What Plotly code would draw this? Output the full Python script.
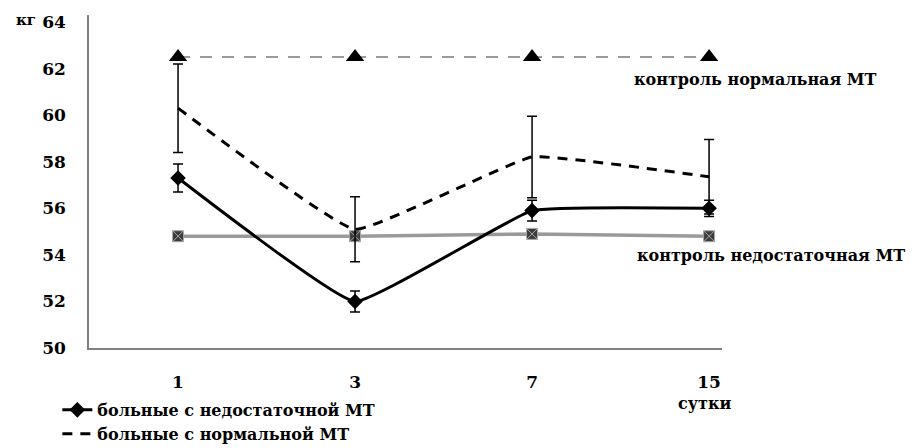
import plotly.graph_objects as go

# Days of observation (category axis)
days = ["1", "3", "7", "15"]

# Body mass, kg
patients_low = [57.3, 52.0, 55.9, 56.0]
patients_low_err = [0.6, 0.45, 0.45, 0.35]
patients_norm = [60.3, 55.1, 58.2, 57.35]
patients_norm_err = [1.9, 1.4, 1.75, 1.6]
control_norm = [62.5, 62.5, 62.5, 62.5]
control_low = [54.8, 54.8, 54.9, 54.8]

x_pos = list(range(len(days)))
FONT = "DejaVu Serif"

fig = go.Figure()

# Control group, insufficient body mass
fig.add_trace(go.Scatter(
    x=x_pos, y=control_low, mode="lines+markers", showlegend=False,
    line=dict(color="#9a9a9a", width=3.5),
    marker=dict(symbol="square-x", size=11, color="#3c3c3c",
                line=dict(color="#a8a8a8", width=1)),
))

# Patients with normal body mass
fig.add_trace(go.Scatter(
    x=x_pos, y=patients_norm, mode="lines", name="больные с нормальной МТ",
    line=dict(color="black", width=3, dash="10px,8px", shape="spline", smoothing=0.3),
    error_y=dict(type="data", array=patients_norm_err, color="black",
                 thickness=1.5, width=5),
))

# Patients with insufficient body mass
fig.add_trace(go.Scatter(
    x=x_pos, y=patients_low, mode="lines+markers", name="больные с недостаточной МТ",
    line=dict(color="black", width=3, shape="spline", smoothing=0.3),
    marker=dict(symbol="diamond", size=12, color="black"),
    error_y=dict(type="data", array=patients_low_err, color="black",
                 thickness=1.5, width=5),
))

# Control group, normal body mass
fig.add_trace(go.Scatter(
    x=x_pos, y=control_norm, mode="lines+markers", showlegend=False,
    line=dict(color="#9a9a9a", width=2, dash="12px,10px"),
    marker=dict(symbol="triangle-up", size=16, color="black"),
))

def ann(text, x, y, xanchor="center", size=16):
    fig.add_annotation(text=text, xref="paper", yref="paper", x=x, y=y,
                       xanchor=xanchor, yanchor="middle", showarrow=False,
                       font=dict(family=FONT, size=size, color="black", weight="bold"))

ann("кг", -0.1, 0.985, size=15)
ann("контроль нормальная МТ", 0.858, 0.805, xanchor="left", size=16)
ann("контроль недостаточная МТ", 0.8626, 0.279, xanchor="left", size=16)
ann("сутки", 0.973, -0.168, size=16)

fig.update_layout(
    width=916, height=448,
    margin=dict(l=89, r=194, t=15, b=100, autoexpand=False),
    plot_bgcolor="white", paper_bgcolor="white",
    font=dict(family=FONT, color="black"),
    showlegend=True,
    legend=dict(x=-0.05, y=-0.135, xanchor="left", yanchor="top",
                bgcolor="rgba(0,0,0,0)", tracegroupgap=0,
                font=dict(family=FONT, size=16, color="black", weight="bold"),
                traceorder="reversed"),
    xaxis=dict(
        range=[-0.503, 3.073], tickmode="array", tickvals=x_pos, ticktext=days,
        showgrid=False, zeroline=False, showline=True, linecolor="#808080",
        linewidth=1.5, ticks="", ticklabelstandoff=18,
        tickfont=dict(family=FONT, size=17, color="black", weight="bold"),
    ),
    yaxis=dict(
        range=[50, 64.3], tickmode="array", tickvals=[50, 52, 54, 56, 58, 60, 62, 64],
        showgrid=False, zeroline=False, showline=True, linecolor="#808080",
        linewidth=1.5, ticks="", ticklabelstandoff=18,
        tickfont=dict(family=FONT, size=17, color="black", weight="bold"),
    ),
)

fig.write_html("out.html")
